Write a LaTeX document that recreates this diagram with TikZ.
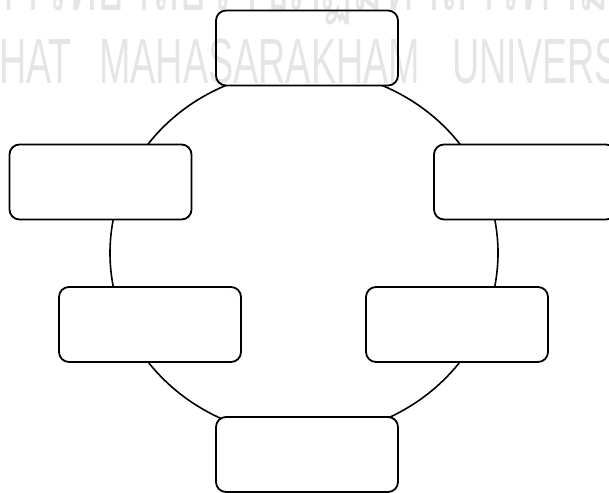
\documentclass[tikz,border=0pt]{standalone}
\usepackage{fontspec}
\usepackage{graphicx}
\setmainfont{Liberation Sans}
\newfontfamily\thaifont[Script=Thai]{Loma}
\begin{document}
\begin{tikzpicture}[x=1pt,y=-1pt,
  box/.style={draw=black, line width=1.8pt, fill=white, rounded corners=10pt,
    minimum width=182pt, minimum height=75pt, inner sep=0pt},
  ring/.style={draw=black, line width=1.6pt},
  wm/.style={text=black, text opacity=0.1, inner sep=0pt, font=\fontsize{64}{64}\selectfont},
  wmthai/.style={text=black, text opacity=0.1, inner sep=0pt, font=\fontsize{72}{72}\selectfont}]
\useasboundingbox (0,0) rectangle (609,492);
\coordinate (c) at (304,253);
\draw[ring] (c) ellipse [x radius=194, y radius=183];
\node[box] (top) at (307,48) {};
\node[box] (lu) at (100.5,182) {};
\node[box] (ru) at (525,182) {};
\node[box] (ll) at (150,324.5) {};
\node[box] (rl) at (457,324.5) {};
\node[box] (bot) at (307,454.5) {};
% watermark
\node[wm, anchor=base east] (w1) at (72,84) {\scalebox{0.59}[1]{RAJABHAT}};
\node[wm, anchor=base west] (w2) at (99,84) {\scalebox{0.59}[1]{MAHASARAKHAM}};
\node[wm, anchor=base west] (w3) at (452,84) {\scalebox{0.59}[1]{UNIVERSITY}};
\node[wmthai, anchor=base west] (w4) at (-48,11) {\resizebox{657pt}{\height}{\thaifont มหาวิทยาลัยราชภัฏมหาสารคาม}};
\end{tikzpicture}
\end{document}
